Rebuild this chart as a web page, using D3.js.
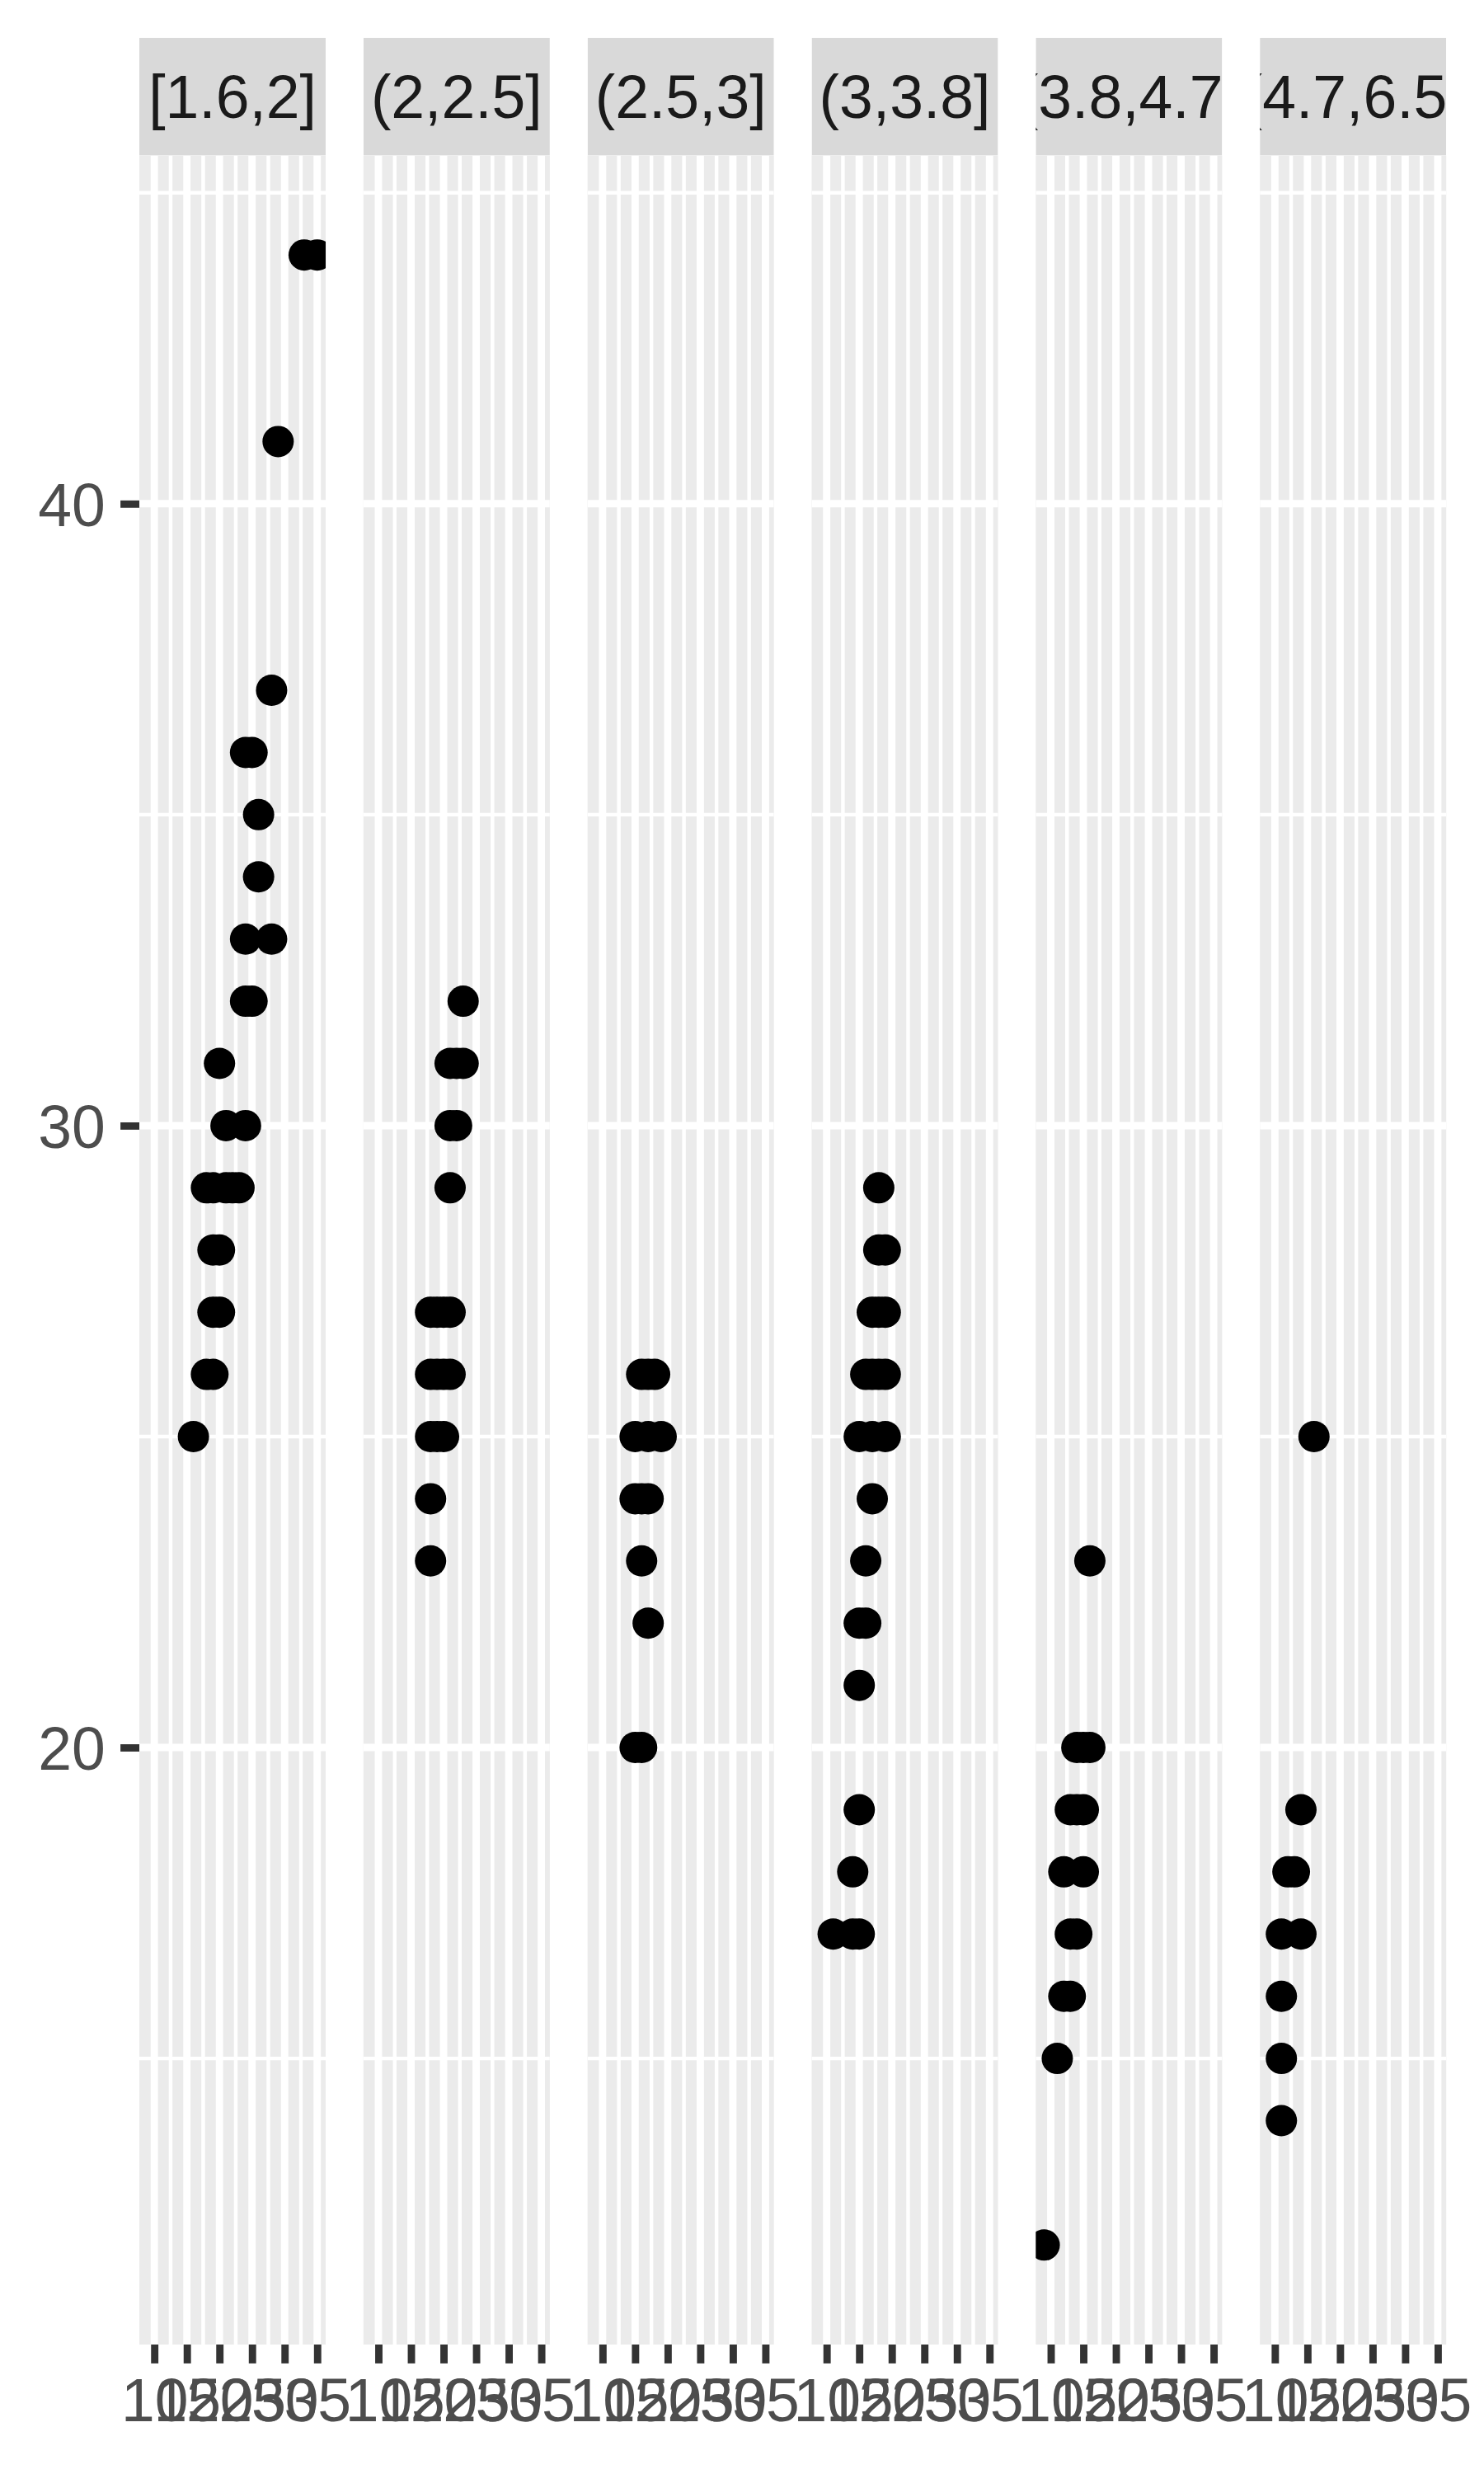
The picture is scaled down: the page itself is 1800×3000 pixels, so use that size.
<!DOCTYPE html>
<html>
<head>
<meta charset="utf-8">
<script src="https://cdn.jsdelivr.net/npm/d3@7"></script>
<style>
  html, body { margin: 0; padding: 0; background: #ffffff; }
  svg { display: block; }
  text { font-family: "Liberation Sans", Arial, Helvetica, sans-serif; }
</style>
</head>
<body>
<svg id="chart" width="1800" height="3000"></svg>
<script>
// ---- data ----
const categories = ["[1.6,2]", "(2,2.5]", "(2.5,3]", "(3,3.8]", "(3.8,4.7]", "(4.7,6.5]"];

const cty_p1 = [33,35,29,28,24,25,26,26,24,28,24,25,20,21,24,18,19,21,22,23,19,20,19,20,18,19,16];
const hwy_p1 = [44,44,41,37,36,36,35,34,33,33,32,32,31,30,30,29,29,29,29,29,28,28,27,27,26,26,25];

const cty_p2 = [23,21,22,23,21,22,21,18,19,20,21,18,19,20,21,18,19,20,18,18];
const hwy_p2 = [32,31,31,31,30,30,29,27,27,27,27,26,26,26,26,25,25,25,24,23];

const cty_p3 = [16,17,18,15,17,19,15,16,17,16,17,15,16];
const hwy_p3 = [26,26,26,25,25,25,24,24,24,23,22,20,20];

const cty_p4 = [18,18,19,17,18,19,16,17,18,19,15,17,19,17,16,15,16,15,15,14,11,14,15];
const hwy_p4 = [29,28,28,27,27,27,26,26,26,26,25,25,25,24,23,22,22,21,19,18,17,17,17];

const cty_p5 = [16,14,15,16,13,14,15,12,15,13,14,12,13,11,9];
const hwy_p5 = [23,20,20,20,19,19,19,18,18,17,17,16,16,15,12];

const cty_p6 = [16,14,12,13,11,14,11,11,11];
const hwy_p6 = [25,19,18,18,17,17,16,15,14];

const xTicks = [10, 15, 20, 25, 30, 35];
const xMinor = [12.5, 17.5, 22.5, 27.5, 32.5];
const yTicks = [20, 30, 40];
const yMinor = [15, 25, 35, 45];

const panelsCty = [cty_p1, cty_p2, cty_p3, cty_p4, cty_p5, cty_p6];
const panelsHwy = [hwy_p1, hwy_p2, hwy_p3, hwy_p4, hwy_p5, hwy_p6];

// ---- layout (ggplot-like, 600 dpi) ----
const W = 1800, H = 3000;
const outer = 45.8;          // 5.5pt plot margin
const spacing = 45.8;        // panel spacing
const panelLeft = 169;
const panelTop = 188.5;
const panelBottom = 2843;
const stripTop = outer;
const nP = categories.length;
const panelW = (W - outer - panelLeft - spacing * (nP - 1)) / nP;
const panelH = panelBottom - panelTop;
const majorW = 8.9, minorW = 4.45;
const fontPx = 73.3;

const allCty = panelsCty.flat(), allHwy = panelsHwy.flat();
const cExt = d3.extent(allCty), hExt = d3.extent(allHwy);
const cPad = (cExt[1] - cExt[0]) * 0.05, hPad = (hExt[1] - hExt[0]) * 0.05;

const x = d3.scaleLinear().domain([cExt[0] - cPad, cExt[1] + cPad]).range([0, panelW]);
const y = d3.scaleLinear().domain([hExt[0] - hPad, hExt[1] + hPad]).range([panelH, 0]);

const svg = d3.select("#chart");
svg.append("rect").attr("width", W).attr("height", H).attr("fill", "#ffffff");
const defs = svg.append("defs");

categories.forEach((cat, i) => {
  const x0 = panelLeft + i * (panelW + spacing);
  const g = svg.append("g").attr("transform", `translate(${x0},${panelTop})`);

  // clip for panel
  defs.append("clipPath").attr("id", "pclip" + i)
    .append("rect").attr("x", 0).attr("y", 0).attr("width", panelW).attr("height", panelH);

  g.append("rect").attr("width", panelW).attr("height", panelH).attr("fill", "#EBEBEB");

  const grid = g.append("g").attr("clip-path", `url(#pclip${i})`);
  // minor grid
  grid.selectAll("line.ymin").data(yMinor).join("line")
    .attr("x1", 0).attr("x2", panelW)
    .attr("y1", d => y(d)).attr("y2", d => y(d))
    .attr("stroke", "#ffffff").attr("stroke-width", minorW);
  grid.selectAll("line.xmin").data(xMinor).join("line")
    .attr("y1", 0).attr("y2", panelH)
    .attr("x1", d => x(d)).attr("x2", d => x(d))
    .attr("stroke", "#ffffff").attr("stroke-width", minorW);
  // major grid
  grid.selectAll("line.ymaj").data(yTicks).join("line")
    .attr("x1", 0).attr("x2", panelW)
    .attr("y1", d => y(d)).attr("y2", d => y(d))
    .attr("stroke", "#ffffff").attr("stroke-width", majorW);
  grid.selectAll("line.xmaj").data(xTicks).join("line")
    .attr("y1", 0).attr("y2", panelH)
    .attr("x1", d => x(d)).attr("x2", d => x(d))
    .attr("stroke", "#ffffff").attr("stroke-width", majorW);

  // points
  const pts = panelsCty[i].map((c, k) => ({ c, h: panelsHwy[i][k] }));
  g.append("g").attr("clip-path", `url(#pclip${i})`)
    .selectAll("circle").data(pts).join("circle")
    .attr("cx", d => x(d.c)).attr("cy", d => y(d.h))
    .attr("r", 19).attr("fill", "#000000");

  // strip
  const stripH = panelTop - stripTop;
  defs.append("clipPath").attr("id", "sclip" + i)
    .append("rect").attr("x", 0).attr("y", stripTop - panelTop).attr("width", panelW).attr("height", stripH);
  const sg = g.append("g").attr("clip-path", `url(#sclip${i})`);
  sg.append("rect").attr("x", 0).attr("y", stripTop - panelTop)
    .attr("width", panelW).attr("height", stripH).attr("fill", "#D9D9D9");
  sg.append("text")
    .attr("x", panelW / 2).attr("y", stripTop - panelTop + stripH / 2 + fontPx * 0.358)
    .attr("text-anchor", "middle").attr("font-size", fontPx).attr("fill", "#1A1A1A")
    .text(cat);

  // x axis
  const xa = g.append("g").attr("transform", `translate(0,${panelH})`)
    .call(d3.axisBottom(x).tickValues(xTicks).tickSize(22.9).tickPadding(18.3).tickFormat(d3.format("d")));
  xa.select(".domain").remove();
  xa.selectAll(".tick line").attr("stroke", "#333333").attr("stroke-width", majorW);
  xa.selectAll(".tick text").attr("font-size", fontPx).attr("fill", "#4D4D4D")
    .attr("font-family", "Liberation Sans, Arial, Helvetica, sans-serif");

  // y axis (first panel only)
  if (i === 0) {
    const ya = g.append("g")
      .call(d3.axisLeft(y).tickValues(yTicks).tickSize(22.9).tickPadding(18.3).tickFormat(d3.format("d")));
    ya.select(".domain").remove();
    ya.selectAll(".tick line").attr("stroke", "#333333").attr("stroke-width", majorW);
    ya.selectAll(".tick text").attr("font-size", fontPx).attr("fill", "#4D4D4D").attr("dy", "0.36em")
      .attr("font-family", "Liberation Sans, Arial, Helvetica, sans-serif");
  }
});
</script>
</body>
</html>
